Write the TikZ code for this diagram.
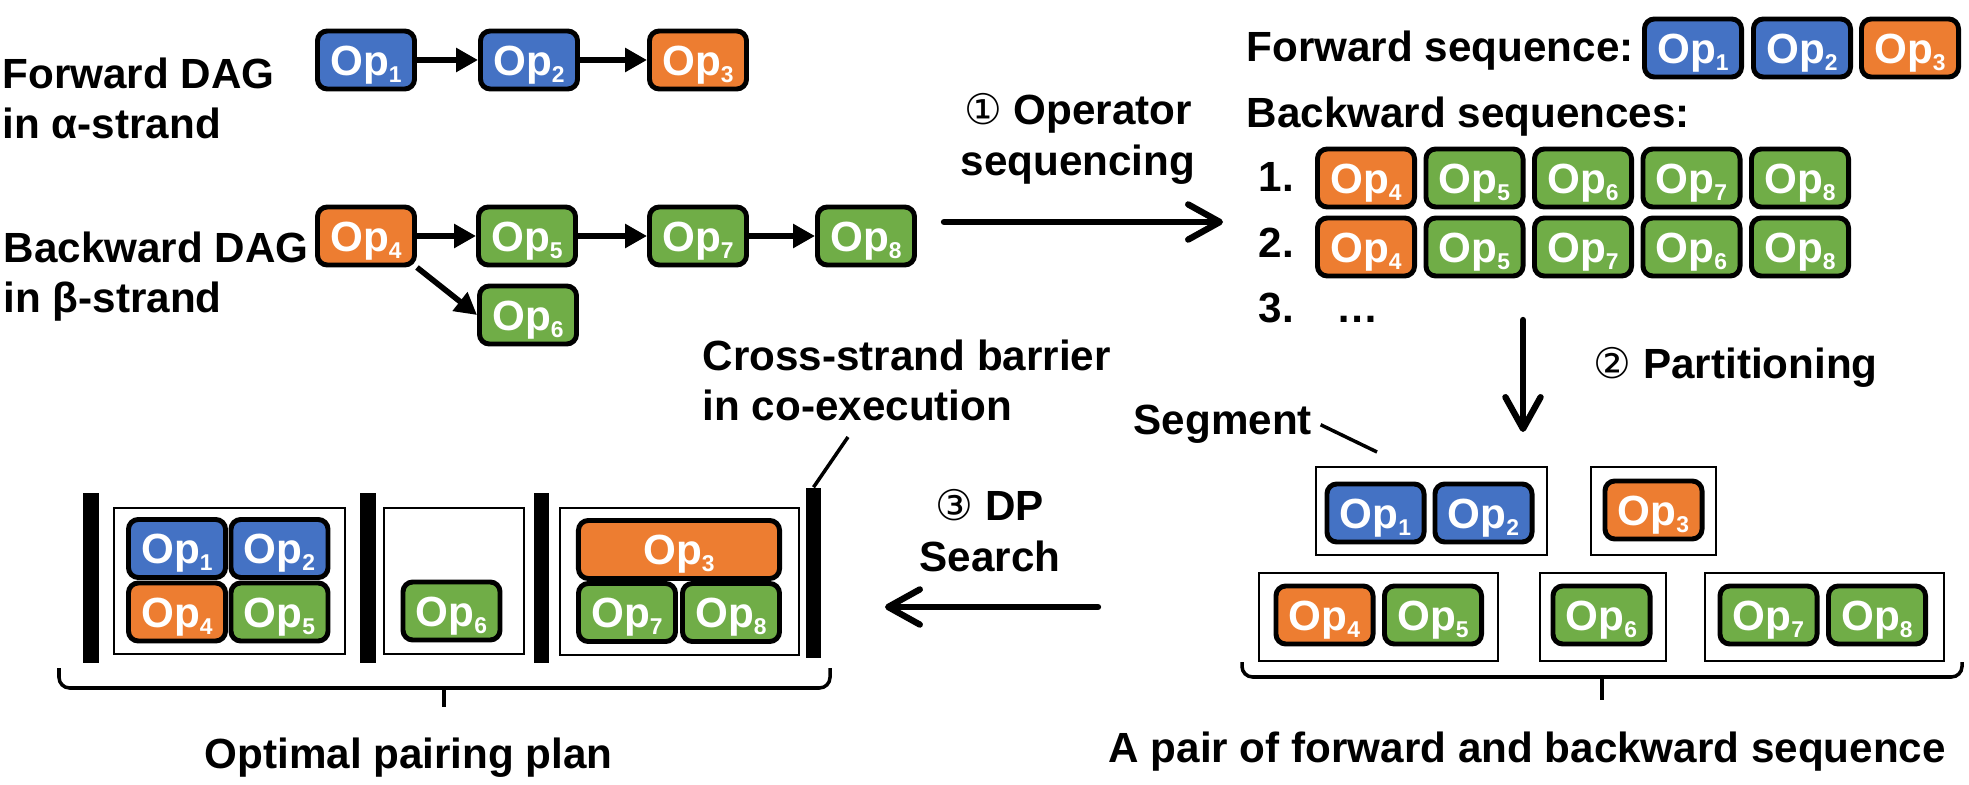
\documentclass[tikz,border=0pt]{standalone}
\usepackage{fontspec}
\setmainfont{Liberation Sans}
\newfontfamily\circfont{DejaVu Sans}
\usetikzlibrary{arrows.meta}
\definecolor{opblue}{HTML}{4472C4}
\definecolor{oporange}{HTML}{ED7D31}
\definecolor{opgreen}{HTML}{70AD47}
\newcommand{\opsub}[1]{Op\raisebox{-2pt}{\fontsize{6.5}{7}\selectfont #1}}
\newcommand{\circnum}[1]{{\circfont\mdseries #1}}

\begin{document}
\begin{tikzpicture}[x=0.01cm, y=-0.01cm,
    every node/.style={font=\fontsize{12}{14.4}\selectfont\bfseries, inner sep=0pt},
    op/.style={draw=black, line width=1.4pt, rounded corners=2.8pt, text=white,
        minimum width=0.97cm, minimum height=0.58cm, text height=8.6pt, text depth=0pt},
    blueop/.style={op, fill=opblue},
    orangeop/.style={op, fill=oporange},
    greenop/.style={op, fill=opgreen},
    dagarrow/.style={-{Triangle[length=6.2pt,width=6.5pt]}, line width=1.6pt},
    steparrow/.style={-{Straight Barb[length=9pt,width=10pt,round]}, line width=1.8pt, line cap=round},
    segbox/.style={draw, line width=0.7pt},
    bar/.style={fill=black, minimum width=0.15cm, minimum height=1.7cm},
    brace/.style={line width=1pt, rounded corners=3pt}]
    \useasboundingbox (0,0) rectangle (1969,785);

    \node[anchor=north west, align=left] (fwdlbl) at (2,57) {Forward DAG\\in α-strand};
    \node[anchor=north west, align=left] (bwdlbl) at (3,231) {Backward DAG\\in β-strand};

    \node[blueop] (f1) at (366,60) {\opsub{1}};
    \node[blueop] (f2) at (529,60) {\opsub{2}};
    \node[orangeop] (f3) at (698,60) {\opsub{3}};
    \draw[dagarrow] (f1) -- (f2);
    \draw[dagarrow] (f2) -- (f3);

    \node[orangeop] (b4) at (366,236) {\opsub{4}};
    \node[greenop] (b5) at (527,236) {\opsub{5}};
    \node[greenop] (b7) at (698,236) {\opsub{7}};
    \node[greenop] (b8) at (866,236) {\opsub{8}};
    \node[greenop] (b6) at (528,315) {\opsub{6}};
    \draw[dagarrow] (b4) -- (b5);
    \draw[dagarrow] (b5) -- (b7);
    \draw[dagarrow] (b7) -- (b8);
    \draw[dagarrow] (b4.south east) -- (b6.west);

    \node[align=center, anchor=north] (step1) at (1078,93) {\circnum{①} Operator\\sequencing};
    \coordinate (s1a) at (944,222);
    \coordinate (s1b) at (1223,222);
    \draw[steparrow] (s1a) -- (s1b);

    \node[anchor=base west] (fseqlbl) at (1246,62) {Forward sequence:};
    \node[blueop] (sf1) at (1693,48) {\opsub{1}};
    \node[blueop] (sf2) at (1802,48) {\opsub{2}};
    \node[orangeop] (sf3) at (1910,48) {\opsub{3}};
    \node[anchor=base west] (bseqlbl) at (1246,128) {Backward sequences:};
    \node[anchor=base west] (n1) at (1258,192) {1.};
    \node[anchor=base west] (n2) at (1258,258) {2.};
    \node[anchor=base west] (n3) at (1258,322) {3.\hspace{12pt}…};
    \foreach \c/\n [count=\i] in {orangeop/4, greenop/5, greenop/6, greenop/7, greenop/8}
        \node[\c] (ra\i) at ({1366+108.5*(\i-1)},178) {\opsub{\n}};
    \foreach \c/\n [count=\i] in {orangeop/4, greenop/5, greenop/7, greenop/6, greenop/8}
        \node[\c] (rb\i) at ({1366+108.5*(\i-1)},247) {\opsub{\n}};

    \coordinate (s2a) at (1523,320);
    \coordinate (s2b) at (1523,432);
    \draw[steparrow] (s2a) -- (s2b);
    \node[anchor=base west] (step2) at (1593,378) {\circnum{②} Partitioning};

    \node[anchor=base west] (seglbl) at (1133,435) {Segment};
    \coordinate (segtip) at (1377,452);
    \draw[line width=1pt] (seglbl.east) ++(8,0) -- (segtip);

    \node[blueop] (p1) at (1375.5,513) {\opsub{1}};
    \node[blueop] (p2) at (1483.5,513) {\opsub{2}};
    \node[orangeop] (p3) at (1653.5,510) {\opsub{3}};
    \draw[segbox] (1316,467) rectangle (1547,555);
    \draw[segbox] (1591,467) rectangle (1716,555);
    \node[orangeop] (q4) at (1324.5,615) {\opsub{4}};
    \node[greenop] (q5) at (1433,615) {\opsub{5}};
    \node[greenop] (q6) at (1601.5,615) {\opsub{6}};
    \node[greenop] (q7) at (1768.5,615) {\opsub{7}};
    \node[greenop] (q8) at (1877,615) {\opsub{8}};
    \draw[segbox] (1259,573) rectangle (1498,661);
    \draw[segbox] (1540,573) rectangle (1666,661);
    \draw[segbox] (1705,573) rectangle (1944,661);
    \draw[brace] (1242,662) |- (1962,677) -- (1962,662);
    \draw[line width=1pt] (1602,677) -- (1602,700);
    \node[anchor=base west] (pairlbl) at (1108,762) {A pair of forward and backward sequence};

    \node[align=center, anchor=north] (step3) at (990,489) {\circnum{③} DP\\Search};
    \coordinate (s3a) at (1098,607);
    \coordinate (s3b) at (885,607);
    \draw[steparrow] (s3a) -- (s3b);

    \node[anchor=north west, align=left] (barlbl) at (702,339) {Cross-strand barrier\\in co-execution};
    \node[bar] (w1) at (91,578) {};
    \node[bar] (w2) at (368,578) {};
    \node[bar] (w3) at (541,578) {};
    \node[bar] (w4) at (813.5,573) {};
    \coordinate (barlead) at (848,437);
    \draw[line width=1pt] (barlead) -- (w4.north);

    \draw[segbox] (114,508) rectangle (345,654);
    \draw[segbox] (384,508) rectangle (524,654);
    \draw[segbox] (560,508) rectangle (799,655);
    \node[blueop] (l1) at (177,548.5) {\opsub{1}};
    \node[blueop] (l2) at (279.5,548.5) {\opsub{2}};
    \node[orangeop] (l4) at (177,612) {\opsub{4}};
    \node[greenop] (l5) at (279.5,612) {\opsub{5}};
    \node[greenop] (l6) at (451.5,611) {\opsub{6}};
    \node[orangeop, minimum width=2.01cm] (l3) at (679,549.5) {\opsub{3}};
    \node[greenop] (l7) at (627,612.5) {\opsub{7}};
    \node[greenop] (l8) at (731,612.5) {\opsub{8}};
    \draw[brace] (59,668) |- (830,688) -- (830,668);
    \draw[line width=1pt] (444,688) -- (444,707);
    \node[anchor=base west] (planlbl) at (204,768) {Optimal pairing plan};
\end{tikzpicture}
\end{document}
